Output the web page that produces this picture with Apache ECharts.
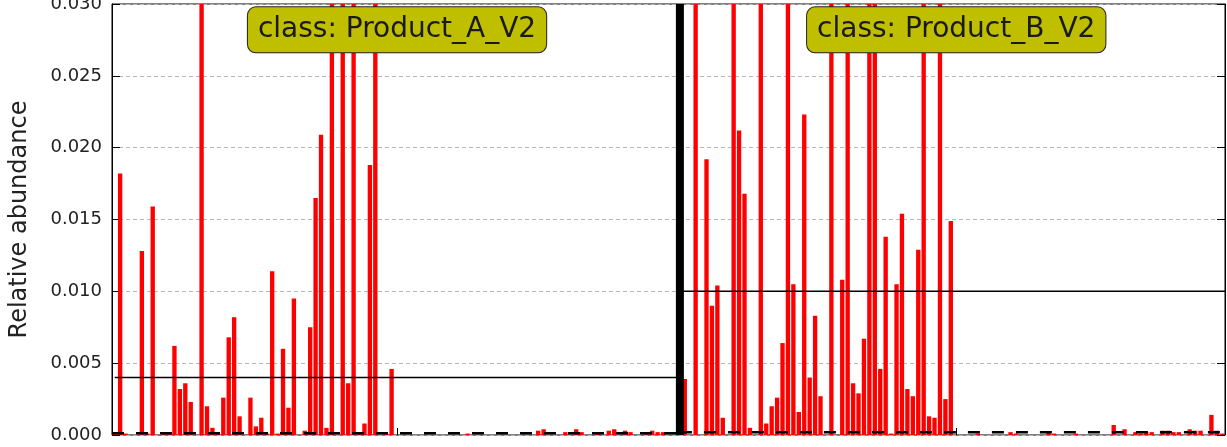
<!DOCTYPE html>
<html><head><meta charset="utf-8">
<script src="https://cdn.jsdelivr.net/npm/echarts@6/dist/echarts.min.js"></script>
<style>html,body{margin:0;padding:0;background:#fff}#c{width:1227px;height:447px}</style>
</head><body><div id="c"></div>
<script>
// Relative abundance per sample, class Product_A_V2 (left panel)
const abundanceA = [
 0.0001, 0.0182, 0.0001, 0, 0, 0.0128, 0.0001, 0.0159, 0, 0.0001,
 0.0001, 0.0062, 0.0032, 0.0036, 0.0023, 0, 0.052, 0.0020, 0.0005, 0.0001,
 0.0026, 0.0068, 0.0082, 0.0013, 0, 0.0026, 0.0006, 0.0012, 0.0001, 0.0114,
 0.0001, 0.0060, 0.0019, 0.0095, 0, 0.0003, 0.0075, 0.0165, 0.0209, 0.0005,
 0.041, 0, 0.047, 0.0036, 0.038, 0.0001, 0.0008, 0.0188, 0.044, 0,
 0.0001, 0.0046, 0, 0, 0, 0, 0, 0, 0, 0,
 0, 0, 0, 0, 0, 0.0001, 0, 0, 0, 0,
 0, 0, 0, 0, 0, 0, 0, 0, 0.0003, 0.0004,
 0, 0, 0, 0.0002, 0, 0.0004, 0.0002, 0, 0, 0.0002,
 0, 0.0003, 0.0004, 0, 0.0003, 0.0002, 0, 0, 0.0002, 0.0003,
 0.0002, 0.0002, 0, 0
];
// Relative abundance per sample, class Product_B_V2 (right panel)
const abundanceB = [
 0, 0.0039, 0, 0.046, 0, 0.0192, 0.0090, 0.0104, 0.0012, 0,
 0.049, 0.0212, 0.0168, 0.0005, 0, 0.043, 0.0008, 0.0020, 0.0026, 0.0064,
 0.055, 0.0105, 0.0016, 0.0223, 0.0040, 0.0083, 0.0027, 0, 0.048, 0,
 0.0108, 0.042, 0.0036, 0.0029, 0.0067, 0.051, 0.045, 0.0046, 0.0138, 0.0001,
 0.0105, 0.0154, 0.0032, 0.0027, 0.0129, 0.044, 0.0013, 0.0012, 0.040, 0.0025,
 0.0149, 0, 0, 0, 0, 0.0001, 0, 0, 0, 0,
 0, 0.0002, 0.0001, 0, 0, 0, 0, 0, 0.0002, 0.0001,
 0, 0, 0, 0.0001, 0, 0, 0, 0, 0, 0,
 0.0007, 0, 0.0004, 0, 0.0002, 0.0001, 0.0002, 0.0002, 0, 0.0003,
 0.0003, 0.0002, 0.0002, 0, 0.0004, 0.0003, 0.0003, 0, 0.0014, 0.0003,
 0.0001
];
const classNames = ['class: Product_A_V2', 'class: Product_B_V2'];
const classMeans = [0.004, 0.010];
const subclassMedians = [0.00012, 0.0002];
// class extents on the sample axis (sample units)
const classSpans = [[0.5, 104.6], [104.6, 205]];
const classBoundary = 104.6;
const classCenters = [52.5, 155.5];
const labelLevel = 0.0282;
const yTicks = [0, 0.005, 0.010, 0.015, 0.020, 0.025, 0.030];

const values = abundanceA.concat(abundanceB);
const sampleIds = values.map((_, i) => 'S' + (i + 1));
const nSamples = values.length;

const font = 'DejaVu Sans';
const chart = echarts.init(document.getElementById('c'), null, {renderer: 'canvas'});

const boxLabel = {
  show: true, position: 'inside', color: '#1a1a1a', fontFamily: font, fontSize: 28,
  backgroundColor: '#bfbf00', borderColor: '#222', borderWidth: 1, borderRadius: 8,
  padding: [7, 10, 8, 10], lineHeight: 30, formatter: p => p.name
};

chart.setOption({
  animation: false,
  backgroundColor: '#fff',
  grid: {left: 112, right: 2, top: 4, bottom: 12, show: true, borderColor: '#000', borderWidth: 1,
         backgroundColor: 'transparent', containLabel: false, outerBoundsMode: 'none'},
  xAxis: [
    {type: 'category', data: sampleIds, boundaryGap: true, axisLine: {show: false}, axisTick: {show: false}, axisLabel: {show: false}, splitLine: {show: false}},
    {type: 'value', min: 0, max: nSamples, position: 'bottom', axisLine: {show: false}, axisLabel: {show: false}, splitLine: {show: false},
     axisTick: {show: true, inside: true, length: 7, customValues: classCenters, lineStyle: {color: '#000'}}}
  ],
  yAxis: [
    {type: 'value', min: yTicks[0], max: yTicks[yTicks.length - 1], interval: 0.005,
     axisLine: {show: true, lineStyle: {color: '#000'}},
     axisTick: {show: true, inside: true, length: 8, lineStyle: {color: '#000'}},
     axisLabel: {formatter: v => v.toFixed(3), fontSize: 18, color: '#222', fontFamily: font, margin: 10},
     splitLine: {show: true, lineStyle: {type: [4, 3], color: '#b8b8b8', width: 1}},
     name: 'Relative abundance', nameLocation: 'middle', nameGap: 80,
     nameTextStyle: {fontSize: 24, color: '#222', fontFamily: font}},
    {type: 'value', min: yTicks[0], max: yTicks[yTicks.length - 1], interval: 0.005, position: 'right',
     axisLine: {show: true, lineStyle: {color: '#000'}},
     axisTick: {show: true, inside: true, length: 8, lineStyle: {color: '#000'}},
     axisLabel: {show: false}, splitLine: {show: false}}
  ],
  series: [
    {type: 'bar', xAxisIndex: 0, yAxisIndex: 0, data: values, barCategoryGap: '20%',
     itemStyle: {color: '#ff0000'}, clip: true, z: 2},
    {type: 'line', xAxisIndex: 1, yAxisIndex: 0, symbol: 'none', z: 3,
     lineStyle: {color: '#000', width: 1.5},
     data: [[classSpans[0][0], classMeans[0]], [classSpans[0][1], classMeans[0]]]},
    {type: 'line', xAxisIndex: 1, yAxisIndex: 0, symbol: 'none', z: 3,
     lineStyle: {color: '#000', width: 1.5},
     data: [[classSpans[1][0], classMeans[1]], [classSpans[1][1], classMeans[1]]]},
    {type: 'line', xAxisIndex: 1, yAxisIndex: 0, symbol: 'none', z: 3,
     lineStyle: {color: '#000', width: 2.5, type: [12, 12]},
     data: [[0, subclassMedians[0]], [classBoundary, subclassMedians[0]]]},
    {type: 'line', xAxisIndex: 1, yAxisIndex: 0, symbol: 'none', z: 3,
     lineStyle: {color: '#000', width: 2.5, type: [12, 12]},
     data: [[classBoundary, subclassMedians[1]], [nSamples, subclassMedians[1]]]},
    {type: 'line', xAxisIndex: 1, yAxisIndex: 0, symbol: 'none', z: 4, clip: false,
     lineStyle: {color: '#000', width: 8},
     data: [[classBoundary, 0], [classBoundary, yTicks[yTicks.length - 1]]],
     markPoint: {
       symbol: 'rect', symbolSize: 1, itemStyle: {color: 'rgba(0,0,0,0)'},
       label: boxLabel,
       data: classNames.map((n, i) => ({name: n, coord: [classCenters[i], labelLevel]}))
     }}
  ]
});
</script></body></html>
